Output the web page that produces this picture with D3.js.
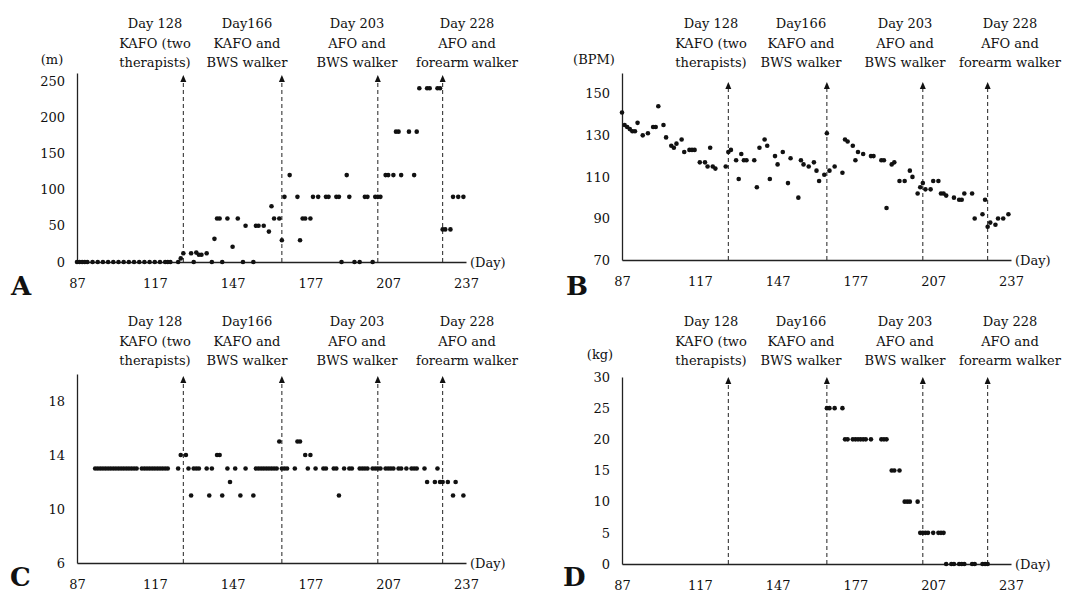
<!DOCTYPE html>
<html>
<head>
<meta charset="utf-8">
<script src="https://cdn.jsdelivr.net/npm/d3@7"></script>
<style>
    body { margin: 0; background: #fff; }
    svg text { font-family: "DejaVu Serif", serif; fill: #111; }
</style>
</head>
<body>
<div id="chart"></div>
<script>
// [day, value]
var walkDistance = [
    [87,0],[88,0],[89,0],[90,0],[91,0],[93,0],[95,0],[97,0],[99,0],[101,0],[103,0],[105,0],
    [107,0],[109,0],[111,0],[113,0],[115,0],[117,0],[119,0],[121,0],[122,0],[123,0],
    [126,0],[127,5],[128,12],[131,12],[132,0],[133,13],[134,10],[135,10],[137,12],[139,0],
    [140,32],[141,60],[142,60],[143,0],[145,60],[147,21],[149,60],[151,0],[152,50],[155,0],
    [156,50],[157,50],[159,50],[161,42],[162,77],[163,60],[165,60],[166,30],[167,90],
    [169,120],[172,90],[173,30],[174,60],[175,60],[177,60],[178,90],[180,90],[183,90],[184,90],
    [187,90],[188,90],[189,0],[191,120],[192,90],[194,0],[196,0],[198,90],[199,90],[201,0],
    [202,90],[203,90],[204,90],[206,120],[207,120],[209,120],[210,180],[211,180],[212,120],
    [215,180],[217,120],[218,180],[219,240],[222,240],[223,240],[226,240],[227,240],
    [228,45],[229,45],[231,45],[232,90],[234,90],[236,90]
];

var heartRate = [
    [87,141],[88,135],[89,134],[90,133],[91,132],[92,132],[93,136],[95,130],[97,131],[99,134],
    [100,134],[101,144],[103,135],[104,129],[106,125],[107,124],[108,126],[110,128],[111,122],
    [113,123],[114,123],[115,123],[117,117],[119,117],[120,115],[121,124],[122,115],[123,114],
    [127,115],[128,122],[129,123],[131,118],[132,109],[133,121],[134,118],[135,118],[138,118],
    [139,105],[140,124],[142,128],[143,125],[144,109],[146,120],[147,116],[149,122],[151,107],
    [152,119],[155,100],[156,118],[157,116],[159,115],[161,117],[162,113],[163,108],[165,111],
    [166,131],[167,113],[169,115],[172,112],[173,128],[174,127],[176,125],[177,118],[178,122],
    [180,121],[183,120],[184,120],[187,118],[188,118],[189,95],[191,116],[192,117],[194,108],
    [196,108],[198,113],[199,110],[201,102],[202,105],[203,107],[204,104],[206,104],[207,108],
    [209,108],[210,102],[211,102],[212,101],[215,100],[217,99],[218,99],[219,102],[222,102],
    [223,90],[226,92],[227,99],[228,86],[229,88],[231,87],[232,90],[234,90],[236,92]
];

var panelC = [
    [94,13],[95,13],[96,13],[97,13],[98,13],[99,13],[100,13],[101,13],[102,13],[103,13],
    [104,13],[105,13],[106,13],[107,13],[108,13],[109,13],[110,13],[112,13],[113,13],
    [114,13],[115,13],[116,13],[117,13],[118,13],[119,13],[120,13],[121,13],[122,13],
    [126,13],[127,14],[129,14],[130,13],[131,11],[132,13],[133,13],[134,13],[137,13],[138,11],
    [139,13],[141,14],[142,14],[143,11],[145,13],[146,12],[148,13],[150,11],[152,13],[155,11],
    [156,13],[157,13],[158,13],[159,13],[160,13],[161,13],[162,13],[163,13],[164,13],[165,15],
    [166,13],[167,13],[168,13],[171,13],[172,15],[173,15],[175,14],[176,13],[177,14],[179,13],
    [182,13],[183,13],[186,13],[187,13],[188,11],[190,13],[192,13],[193,13],[196,13],[197,13],
    [198,13],[199,13],[201,13],[202,13],[203,13],[204,13],[206,13],[207,13],[208,13],[209,13],
    [211,13],[212,13],[214,13],[216,13],[217,13],[218,13],[221,13],[222,12],[225,12],[226,13],
    [227,12],[228,12],[230,12],[232,11],[233,12],[236,11]
];

var bodyWeightSupport = [
    [166,25],[167,25],[169,25],[172,25],
    [173,20],[174,20],[176,20],[177,20],[178,20],[179,20],[180,20],[181,20],[183,20],[187,20],[188,20],[189,20],
    [191,15],[192,15],[194,15],
    [196,10],[197,10],[198,10],[201,10],
    [202,5],[203,5],[204,5],[205,5],[207,5],[209,5],[210,5],[211,5],
    [212,0],[214,0],[215,0],[217,0],[218,0],[219,0],[222,0],[223,0],[226,0],[227,0],[228,0]
];

var dayTicks = [87, 117, 147, 177, 207, 237];
var distTicks = [0, 50, 100, 150, 200, 250];
var bpmTicks = [70, 90, 110, 130, 150];
var cTicks = [6, 10, 14, 18];
var kgTicks = [0, 5, 10, 15, 20, 25, 30];

var eventDays = [128, 166, 203, 228];
var eventLabels = [
    ["Day 128", "KAFO (two", "therapists)"],
    ["Day166", "KAFO and", "BWS walker"],
    ["Day 203", "AFO and", "BWS walker"],
    ["Day 228", "AFO and", "forearm walker"]
];

var W = 1083, H = 593;
var svg = d3.select("#chart").append("svg")
    .attr("width", W)
    .attr("height", H);

var panels = [
    {letter: "A", data: walkDistance, ticks: distTicks, domain: [0, 261], xr: [77, 466], yr: [262, 73],
     unit: "(m)", unitX: 52, unitY: 64, arrowTop: 75, headerX: [155, 247, 357, 467], headerY: 28,
     letterX: 11, letterY: 295},
    {letter: "B", data: heartRate, ticks: bpmTicks, domain: [70, 160], xr: [622, 1011], yr: [260, 73],
     unit: "(BPM)", unitX: 594, unitY: 64, arrowTop: 82, headerX: [711, 801, 905, 1010], headerY: 28,
     letterX: 566, letterY: 295},
    {letter: "C", data: panelC, ticks: cTicks, domain: [6, 20], xr: [77, 466], yr: [563, 374],
     unit: null, arrowTop: 376, headerX: [155, 247, 357, 467], headerY: 326,
     letterX: 10, letterY: 586},
    {letter: "D", data: bodyWeightSupport, ticks: kgTicks, domain: [0, 30], xr: [622, 1011], yr: [564, 377],
     unit: "(kg)", unitX: 600, unitY: 359, arrowTop: 377, headerX: [711, 801, 905, 1010], headerY: 326,
     letterX: 563, letterY: 586}
];

panels.forEach(drawPanel);

function drawPanel(p) {
    var g = svg.append("g");
    var xScale = d3.scaleLinear().domain([87, 237]).range(p.xr);
    var yScale = d3.scaleLinear().domain(p.domain).range(p.yr);
    var base = yScale(p.domain[0]);

    var yAxis = d3.axisLeft(yScale).tickValues(p.ticks).tickSize(0).tickPadding(12)
        .tickFormat(d3.format("d"));
    var xAxis = d3.axisBottom(xScale).tickValues(dayTicks).tickSize(0).tickPadding(17);

    var gx = g.append("g")
        .attr("transform", "translate(0," + base + ")")
        .call(xAxis);
    var gy = g.append("g")
        .attr("transform", "translate(" + p.xr[0] + ",0)")
        .call(yAxis);

    [gx, gy].forEach(function(a) {
        a.select(".domain").attr("stroke", "#222").attr("stroke-width", 1.3);
        a.selectAll("text").style("font-family", "DejaVu Serif").style("font-size", "13px").attr("fill", "#111");
    });

    // intervention markers
    eventDays.forEach(function(day, i) {
        var ex = xScale(day);
        g.append("line")
            .attr("x1", ex).attr("x2", ex)
            .attr("y1", base).attr("y2", p.arrowTop + 5)
            .attr("stroke", "#222")
            .attr("stroke-width", 1)
            .attr("stroke-dasharray", "4,3");
        g.append("path")
            .attr("d", "M" + ex + "," + p.arrowTop + "L" + (ex - 3) + "," + (p.arrowTop + 7) +
                "L" + (ex + 3) + "," + (p.arrowTop + 7) + "Z")
            .attr("fill", "#111");

        eventLabels[i].forEach(function(line, j) {
            g.append("text")
                .attr("x", p.headerX[i])
                .attr("y", p.headerY + j * 19.5)
                .attr("text-anchor", "middle")
                .style("font-size", "13px")
                .text(line);
        });
    });

    g.selectAll("circle.pt")
        .data(p.data)
        .enter().append("circle")
        .attr("class", "pt")
        .attr("cx", function(d) { return xScale(d[0]); })
        .attr("cy", function(d) { return yScale(d[1]); })
        .attr("r", 2.3)
        .attr("fill", "#111");

    g.append("text")
        .attr("x", p.xr[1] + 4)
        .attr("y", base)
        .attr("dy", "0.35em")
        .style("font-size", "13px")
        .text("(Day)");

    if (p.unit) {
        g.append("text")
            .attr("x", p.unitX)
            .attr("y", p.unitY)
            .attr("text-anchor", "middle")
            .style("font-size", "13px")
            .text(p.unit);
    }

    g.append("text")
        .attr("x", p.letterX)
        .attr("y", p.letterY)
        .style("font-size", "26px")
        .style("font-weight", "bold")
        .text(p.letter);
}
</script>
</body>
</html>
